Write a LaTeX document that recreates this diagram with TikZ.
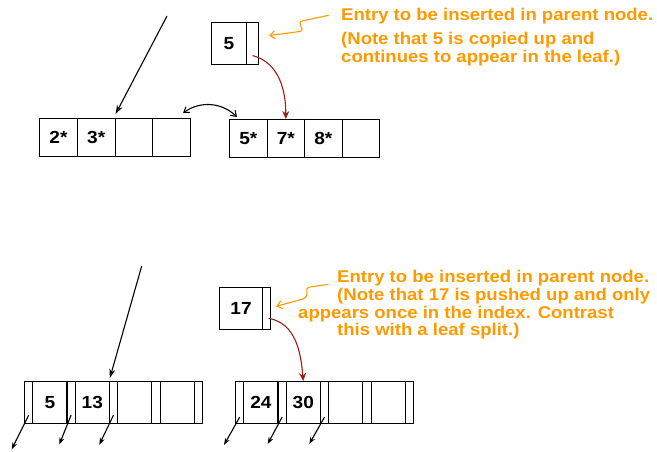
\documentclass[tikz,border=0pt]{standalone}
\usepackage{fontspec}
\setmainfont{Liberation Sans}[FakeStretch=1.09]
\usetikzlibrary{arrows.meta,calc}
\definecolor{noteorange}{RGB}{255,153,0}
\definecolor{pushred}{RGB}{150,30,20}
\begin{document}
\begin{tikzpicture}[x=1pt,y=-1pt,
  txt/.style={font=\fontsize{17}{18}\selectfont\bfseries},
  celltxt/.style={font=\fontsize{17.5}{18}\selectfont\bfseries},
  cellbox/.style={draw, line width=1.1pt, inner sep=0pt, anchor=north west, celltxt},
  leafcell/.style={cellbox, minimum width=37.75pt, minimum height=38pt},
  keycell/.style={cellbox, minimum width=34.1pt, minimum height=42pt},
  ptrcell/.style={cellbox, minimum width=8.3pt, minimum height=42pt},
  note/.style={txt, text=noteorange, inner sep=0pt, anchor=base west},
  longarr/.style={draw, line width=1.1pt, -{Stealth[open,length=9pt,width=6pt]}},
  smallarr/.style={draw, line width=1.1pt, -{Stealth[length=7pt,width=5pt]}},
  dblarr/.style={draw, line width=1.1pt, {Straight Barb[length=5pt,width=7pt]}-{Straight Barb[length=5pt,width=7pt]}},
  redarr/.style={draw=pushred, line width=1.1pt, -{Stealth[length=8pt,width=7pt,fill=pushred]}},
  orarr/.style={draw=noteorange, line width=1.1pt, -{Straight Barb[length=5pt,width=8pt]}},
]
\useasboundingbox (0,0) rectangle (657,451);

% ---------- top: leaf split ----------
\node[leafcell] (l1) at (39,118) {2*};
\node[leafcell] (l2) at (76.75,118) {3*};
\node[leafcell] (l3) at (114.5,118) {};
\node[leafcell] (l4) at (152.25,118) {};

\node[leafcell, minimum width=37.5pt] (r1) at (229,119) {5*};
\node[leafcell, minimum width=37.5pt] (r2) at (266.5,119) {7*};
\node[leafcell, minimum width=37.5pt] (r3) at (304,119) {8*};
\node[leafcell, minimum width=37.5pt] (r4) at (341.5,119) {};

\node[cellbox, minimum width=35pt, minimum height=42pt] (tk) at (211,22) {5};
\node[cellbox, minimum width=12pt, minimum height=42pt] (tp) at (246,22) {};

\coordinate (tin) at (167,16);
\draw[longarr] (tin) -- ([yshift=4pt]l2.north east);
\draw[dblarr] ([xshift=-8pt,yshift=5pt]l4.north east) to[bend left=40] ([xshift=8pt,yshift=2pt]r1.north west);
\draw[redarr] ([yshift=-12pt]tp.center) to[out=-15,in=90] (r2.north);

\node[note] (n1) at (341,20) {Entry to be inserted in parent node.};
\node[note] (n2) at (341,44.5) {(Note that 5 is copied up and};
\node[note] (n3) at (341,62.5) {continues to appear in the leaf.)};
\coordinate (ns1) at (328.7,15.3);
\draw[orarr] (ns1) -- (302,21) .. controls (296,23) and (306,30) .. (300,31.5) -- ([xshift=10pt,yshift=8pt]tp.east);

% ---------- bottom: index split ----------
\node[ptrcell] (lp0) at (24,381) {};
\node[keycell] (lk1) at (32.3,381) {5};
\node[ptrcell] (lp1) at (66.4,381) {};
\node[keycell] (lk2) at (74.7,381) {13};
\node[ptrcell] (lp2) at (108.8,381) {};
\node[keycell] (lk3) at (117.1,381) {};
\node[ptrcell] (lp3) at (151.2,381) {};
\node[keycell] (lk4) at (159.5,381) {};
\node[ptrcell] (lp4) at (193.6,381) {};

\node[ptrcell] (rp0) at (235,381) {};
\node[keycell] (rk1) at (243.3,381) {24};
\node[ptrcell] (rp1) at (277.4,381) {};
\node[keycell] (rk2) at (285.7,381) {30};
\node[ptrcell] (rp2) at (319.8,381) {};
\node[keycell] (rk3) at (328.1,381) {};
\node[ptrcell] (rp3) at (362.2,381) {};
\node[keycell] (rk4) at (370.5,381) {};
\node[ptrcell] (rp4) at (404.6,381) {};

\node[cellbox, minimum width=43pt, minimum height=41.5pt] (bk) at (219,287) {17};
\node[cellbox, minimum width=8pt, minimum height=41.5pt] (bp) at (262,287) {};

\coordinate (bin) at (141.7,266);
\draw[longarr] (bin) -- ([yshift=3pt]lk2.north east);
\draw[redarr] ([xshift=2pt,yshift=-10pt]bp.center) to[out=-10,in=95] (rk2.north);

\coordinate (la0) at (11.7,449.3);
\coordinate (la1) at (59.3,444.5);
\coordinate (la2) at (99.3,444.7);
\coordinate (ra0) at (224,445);
\coordinate (ra1) at (267.7,444);
\coordinate (ra2) at (309.3,444);
\draw[smallarr] ([yshift=9pt]lp0.south) -- (la0);
\draw[smallarr] ([yshift=9pt]lp1.south) -- (la1);
\draw[smallarr] ([yshift=9pt]lp2.south) -- (la2);
\draw[smallarr] ([yshift=7pt]rp0.south) -- (ra0);
\draw[smallarr] ([yshift=7pt]rp1.south) -- (ra1);
\draw[smallarr] ([yshift=7pt]rp2.south) -- (ra2);

\node[note] (m1) at (337,282.3) {Entry to be inserted in parent node.};
\node[note] (m2) at (337,300.5) {(Note that 17 is pushed up and only};
\node[note] (m3) at (298,318.7) {appears once in the index. Contrast};
\node[note] (m4) at (337,335.5) {this with a leaf split.)};
\coordinate (ms1) at (328.3,284.3);
\draw[orarr] (ms1) -- (310,287) .. controls (302,289) and (312,295) .. (303,299) -- ([xshift=5pt,yshift=2pt]bp.east);
\end{tikzpicture}
\end{document}
